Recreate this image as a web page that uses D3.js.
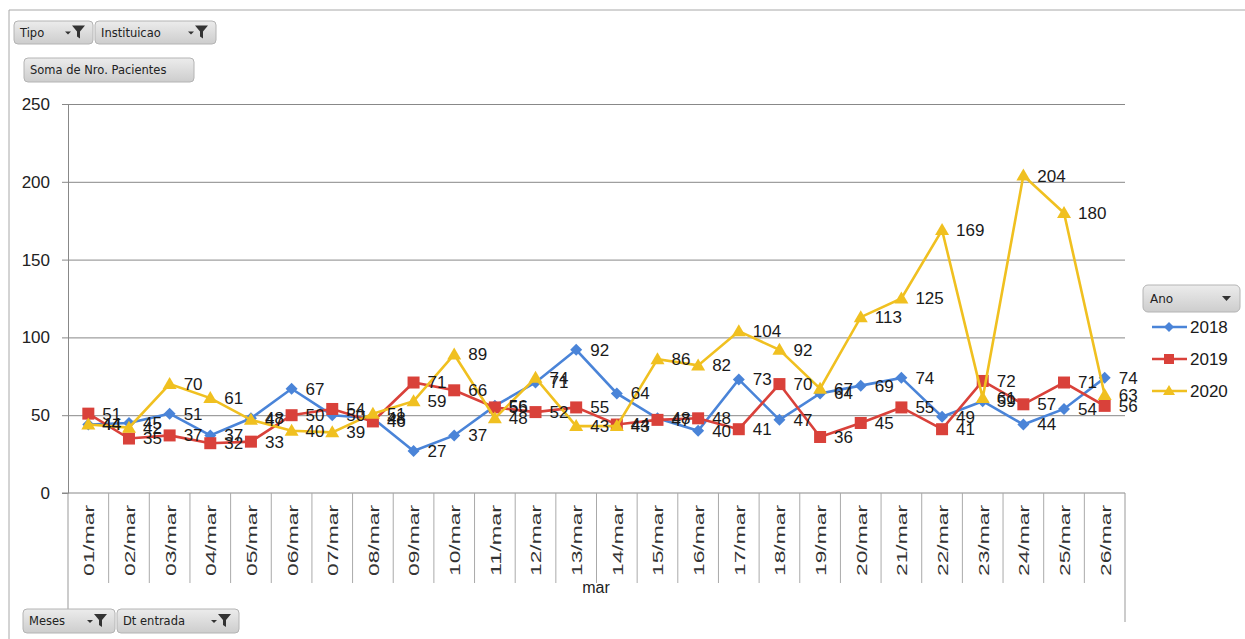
<!DOCTYPE html>
<html>
<head>
<meta charset="utf-8">
<script src="https://cdn.jsdelivr.net/npm/d3@7"></script>
<style>
  body { margin: 0; background: #fff; }
  svg { display: block; }
</style>
</head>
<body>
<script>
var W = 1245, H = 639;

var dias = ["01/mar","02/mar","03/mar","04/mar","05/mar","06/mar","07/mar","08/mar","09/mar","10/mar",
            "11/mar","12/mar","13/mar","14/mar","15/mar","16/mar","17/mar","18/mar","19/mar","20/mar",
            "21/mar","22/mar","23/mar","24/mar","25/mar","26/mar"];
var anos = ["2018", "2019", "2020"];
var v2018 = [44,45,51,37,48,67,50,48,27,37,56,71,92,64,48,40,73,47,64,69,74,49,59,44,54,74];
var v2019 = [51,35,37,32,33,50,54,46,71,66,55,52,55,44,47,48,41,70,36,45,55,41,72,57,71,56];
var v2020 = [44,42,70,61,47,40,39,51,59,89,48,74,43,43,86,82,104,92,67,113,125,169,61,204,180,63];
var yTicks = [0, 50, 100, 150, 200, 250];

var cores = ["#4a84d8", "#d9413a", "#f0c020"];
var series = [
  {ano: anos[0], valores: v2018, cor: cores[0], marca: "diamond"},
  {ano: anos[1], valores: v2019, cor: cores[1], marca: "square"},
  {ano: anos[2], valores: v2020, cor: cores[2], marca: "triangle"}
];

var plot = {left: 68, right: 1125, top: 104, bottom: 493};

var svg = d3.select("body").append("svg")
    .attr("width", W)
    .attr("height", H)
    .style("font-family", "'Liberation Sans', Arial, sans-serif");

var defs = svg.append("defs");
var grad = defs.append("linearGradient")
    .attr("id", "btn").attr("x1", 0).attr("y1", 0).attr("x2", 0).attr("y2", 1);
grad.append("stop").attr("offset", "0%").attr("stop-color", "#ececec");
grad.append("stop").attr("offset", "100%").attr("stop-color", "#cdcdcd");

// moldura
svg.append("path")
    .attr("d", "M9,639 V10 H1245")
    .attr("fill", "none")
    .attr("stroke", "#a8a8a8");

var x = d3.scaleBand().domain(dias).range([plot.left, plot.right]).padding(0);
var y = d3.scaleLinear().domain([0, 250]).range([plot.bottom, plot.top]);

// grade + eixo y
var gy = svg.append("g").attr("transform", "translate(" + plot.left + ",0)");
gy.call(d3.axisLeft(y).tickValues(yTicks).tickSize(6).tickPadding(12));
gy.select(".domain").attr("stroke", "#888");
gy.selectAll(".tick line").attr("stroke", "#888");
gy.selectAll(".tick text")
    .attr("fill", "#222")
    .style("font-size", "17px")
    .style("font-family", "'Liberation Sans', Arial, sans-serif");
gy.selectAll(".tick").filter(function(d) { return d > 0; })
    .append("line")
    .attr("x1", 0).attr("x2", plot.right - plot.left)
    .attr("stroke", "#888");

// eixo x
var gx = svg.append("g");
gx.append("line")
    .attr("x1", plot.left - 6).attr("x2", plot.right)
    .attr("y1", plot.bottom).attr("y2", plot.bottom)
    .attr("stroke", "#888");
gx.append("line")
    .attr("x1", plot.left).attr("x2", plot.left)
    .attr("y1", plot.bottom).attr("y2", 620)
    .attr("stroke", "#999");
gx.append("line")
    .attr("x1", plot.right).attr("x2", plot.right)
    .attr("y1", plot.bottom).attr("y2", 622)
    .attr("stroke", "#999");
gx.selectAll("line.div")
    .data(dias.slice(1))
    .enter().append("line")
    .attr("class", "div")
    .attr("x1", function(d) { return x(d); })
    .attr("x2", function(d) { return x(d); })
    .attr("y1", plot.bottom).attr("y2", 583)
    .attr("stroke", "#aaa");
gx.selectAll("text.dia")
    .data(dias)
    .enter().append("text")
    .attr("class", "dia")
    .attr("transform", function(d) {
      return "translate(" + (x(d) + x.bandwidth() / 2 + 1) + ",505) rotate(-90)";
    })
    .attr("text-anchor", "end")
    .attr("dy", "0.35em")
    .attr("textLength", 71)
    .attr("lengthAdjust", "spacingAndGlyphs")
    .style("font-size", "14px")
    .attr("fill", "#333")
    .text(function(d) { return d; });
gx.append("text")
    .attr("x", 596).attr("y", 593)
    .attr("text-anchor", "middle")
    .style("font-size", "16px")
    .attr("fill", "#222")
    .text("mar");

// linhas
var line = d3.line()
    .x(function(d, i) { return x(dias[i]) + x.bandwidth() / 2; })
    .y(function(d) { return y(d); });

function marker(sel, tipo, cor, s) {
  if (tipo === "diamond") {
    sel.append("path").attr("d", "M0," + (-s) + " L" + s + ",0 L0," + s + " L" + (-s) + ",0 Z").attr("fill", cor);
  } else if (tipo === "square") {
    sel.append("rect").attr("x", -s).attr("y", -s).attr("width", 2 * s).attr("height", 2 * s).attr("fill", cor);
  } else {
    sel.append("path").attr("d", "M0," + (-s - 1) + " L" + (s + 1) + "," + (s - 1) + " L" + (-s - 1) + "," + (s - 1) + " Z").attr("fill", cor);
  }
}

series.forEach(function(s) {
  var g = svg.append("g");
  g.append("path")
      .datum(s.valores)
      .attr("d", line)
      .attr("fill", "none")
      .attr("stroke", s.cor)
      .attr("stroke-width", 2.6);
  g.selectAll("g.pt")
      .data(s.valores)
      .enter().append("g")
      .attr("class", "pt")
      .attr("transform", function(d, i) {
        return "translate(" + (x(dias[i]) + x.bandwidth() / 2) + "," + y(d) + ")";
      })
      .each(function() {
        marker(d3.select(this), s.marca, s.cor, 6);
      });
});

// rótulos de dados
series.forEach(function(s) {
  svg.append("g").selectAll("text")
      .data(s.valores)
      .enter().append("text")
      .attr("x", function(d, i) { return x(dias[i]) + x.bandwidth() / 2 + 14; })
      .attr("y", function(d) { return y(d); })
      .attr("dy", "0.35em")
      .style("font-size", "17px")
      .attr("fill", "#1a1a1a")
      .text(function(d) { return d; });
});

// botões
function funil(g, x0, y0) {
  g.append("path")
      .attr("d", "M" + x0 + "," + (y0 + 3) + " l3,3 l3,-3 z")
      .attr("fill", "#333");
  g.append("path")
      .attr("d", "M" + (x0 + 7) + "," + (y0 - 3) + " h13 l-5,6 v7 l-3,-2 v-5 z")
      .attr("fill", "#333");
}
function botao(x0, y0, w, h, texto, comFiltro) {
  var g = svg.append("g");
  g.append("rect")
      .attr("x", x0).attr("y", y0).attr("width", w).attr("height", h)
      .attr("rx", 4)
      .attr("fill", "url(#btn)")
      .attr("stroke", "#b4b4b4");
  g.append("text")
      .attr("x", x0 + 6).attr("y", y0 + h / 2)
      .attr("dy", "0.35em")
      .style("font-family", "'DejaVu Sans', sans-serif")
      .style("font-size", "11.5px")
      .attr("fill", "#222")
      .text(texto);
  if (comFiltro) funil(g, x0 + w - 28, y0 + h / 2 - 4);
  return g;
}
botao(14, 21, 79, 23, "Tipo", true);
botao(95, 21, 121, 23, "Instituicao", true);
botao(24, 58, 170, 24, "Soma de Nro. Pacientes", false);
botao(23, 609, 92, 24, "Meses", true);
botao(117, 609, 122, 24, "Dt entrada", true);

// legenda
var lg = svg.append("g");
lg.append("rect")
    .attr("x", 1143).attr("y", 285).attr("width", 97).attr("height", 27)
    .attr("rx", 5)
    .attr("fill", "url(#btn)")
    .attr("stroke", "#b4b4b4");
lg.append("text")
    .attr("x", 1150).attr("y", 298.5).attr("dy", "0.35em")
    .style("font-family", "'DejaVu Sans', sans-serif")
    .style("font-size", "12px")
    .attr("fill", "#222")
    .text("Ano");
lg.append("path").attr("d", "M1222,296 h9 l-4.5,5 z").attr("fill", "#333");
series.forEach(function(s, i) {
  var yy = 327 + i * 32;
  var e = lg.append("g");
  e.append("line")
      .attr("x1", 1152).attr("x2", 1187)
      .attr("y1", yy).attr("y2", yy)
      .attr("stroke", s.cor).attr("stroke-width", 2.6);
  var m = e.append("g").attr("transform", "translate(1169," + yy + ")");
  marker(m, s.marca, s.cor, 5);
  e.append("text")
      .attr("x", 1190).attr("y", yy).attr("dy", "0.35em")
      .style("font-size", "17px")
      .attr("fill", "#1a1a1a")
      .text(s.ano);
});
</script>
</body>
</html>
